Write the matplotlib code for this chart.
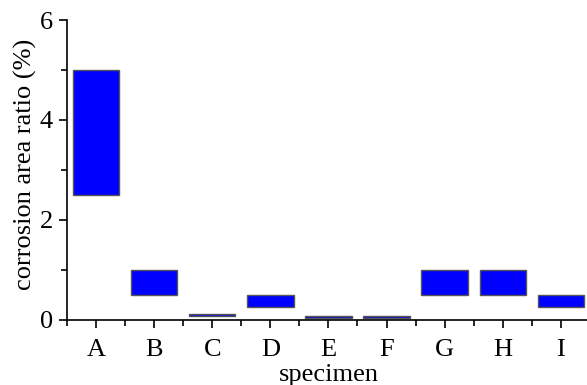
import matplotlib
matplotlib.use("Agg")
import matplotlib.pyplot as plt
from matplotlib.ticker import MultipleLocator
import numpy as np

plt.rcParams["font.family"] = "Liberation Serif"
plt.rcParams["font.size"] = 19

specimen = ['A', 'B', 'C', 'D', 'E', 'F', 'G', 'H', 'I']
low = [2.5, 0.5, 0.07, 0.25, 0.04, 0.04, 0.5, 0.5, 0.25]
high = [5.0, 1.0, 0.11, 0.5, 0.07, 0.07, 1.0, 1.0, 0.5]

x = np.arange(len(specimen))
fig = plt.figure(figsize=(5.87, 3.85), dpi=100)
ax = fig.add_axes([0.114, 0.169, 0.891, 0.779])

ax.bar(x, np.array(high) - np.array(low), bottom=low, width=0.8,
       color='#0000ff', edgecolor='#555555', linewidth=1)

ax.set_xlim(-0.5, 8.5)
ax.set_ylim(0, 6)
ax.set_xticks(x)
ax.set_xticklabels(specimen)
ax.xaxis.set_minor_locator(MultipleLocator(1, offset=0.5))
ax.yaxis.set_major_locator(MultipleLocator(2))
ax.yaxis.set_minor_locator(MultipleLocator(1))
ax.tick_params(which='major', direction='out', length=6, width=1.2)
ax.tick_params(which='minor', direction='out', length=4, width=1.2)
ax.tick_params(axis='x', pad=8)
ax.tick_params(axis='y', pad=4)
ax.spines['top'].set_visible(False)
ax.spines['right'].set_visible(False)
ax.spines['left'].set_linewidth(1.2)
ax.spines['bottom'].set_linewidth(1.2)

ax.set_xlabel('specimen', labelpad=2)
ax.set_ylabel('corrosion area ratio (%)')
ax.yaxis.set_label_coords(-0.058, 0.52)

plt.savefig('out.png', dpi=100)
